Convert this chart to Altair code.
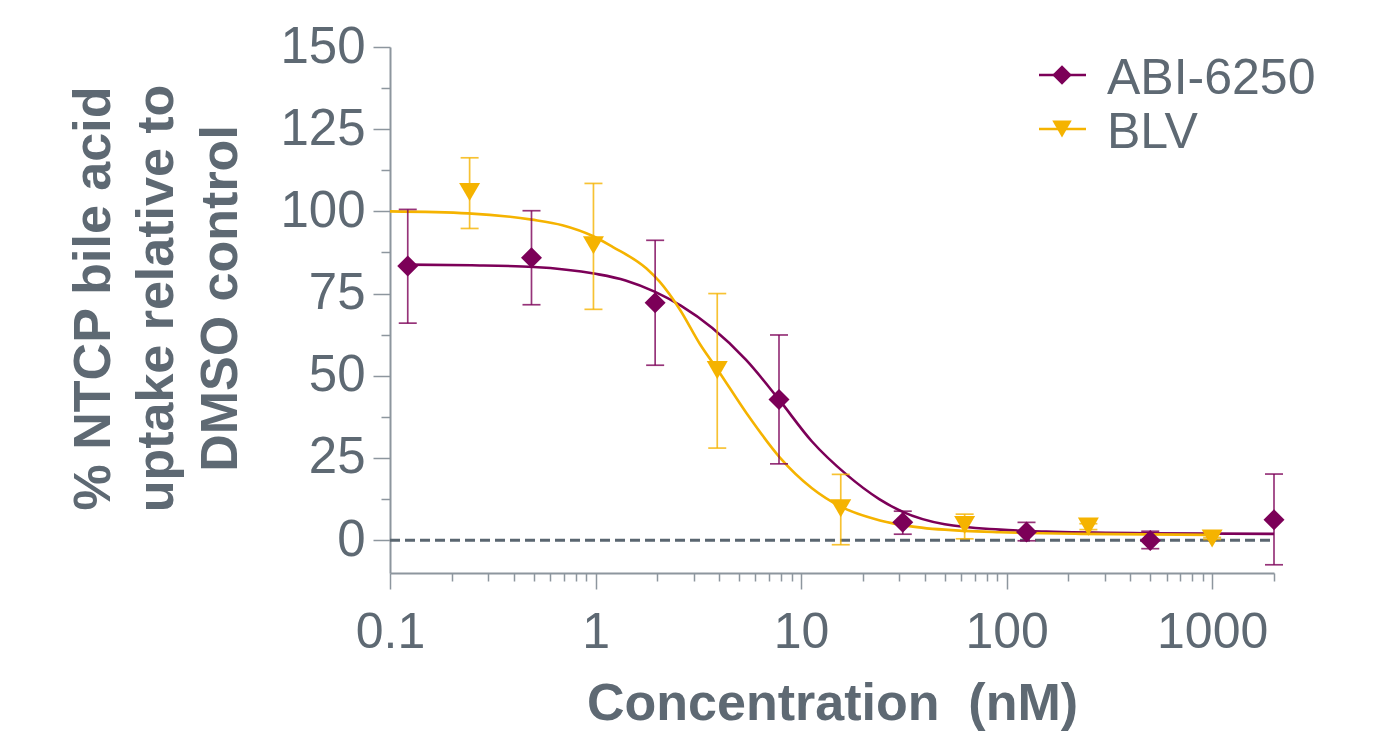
import altair as alt
import pandas as pd

FONT = "Liberation Sans"
GRAY = "#5e6973"
AXIS_GRAY = "#8d969e"
PURPLE = "#7c0058"
YELLOW = "#f5b300"

series_names = ["ABI-6250", "BLV"]
series_colors = [PURPLE, YELLOW]
series_shapes = ["diamond", "triangle-down"]

# measured points (mean, lower / upper error)
abi_conc = [0.122, 0.488, 1.95, 7.81, 31.25, 125, 500, 2000]
abi_mean = [83.4, 85.9, 72.2, 42.8, 5.4, 2.5, -0.1, 6.2]
abi_lo = [66.0, 71.6, 53.2, 23.2, 1.8, -0.2, -2.6, -7.5]
abi_hi = [100.6, 100.2, 91.2, 62.4, 8.8, 5.4, 2.7, 20.1]

blv_conc = [0.244, 0.977, 3.91, 15.6, 62.5, 250, 1000]
blv_mean = [105.9, 89.7, 51.7, 9.7, 4.6, 4.1, 0.5]
blv_lo = [94.8, 70.2, 28.0, -1.4, 0.4, 3.2, 0.2]
blv_hi = [116.3, 108.5, 75.0, 20.0, 7.9, 5.0, 0.8]

# fitted curves
abi_fit_conc = [0.122, 0.25, 0.5, 1.0, 1.4, 1.95, 2.6, 3.7, 5.4, 7.8, 11.3, 16.6, 24, 31.25, 50, 93, 156, 478, 2000]
abi_fit_val = [83.8, 83.6, 83.1, 81.0, 79.0, 75.5, 71.3, 64.5, 54.8, 42.8, 30.0, 20.0, 12.5, 8.6, 4.8, 3.2, 2.6, 2.1, 1.9]
blv_fit_conc = [0.1, 0.24, 0.49, 0.69, 0.97, 1.21, 1.77, 2.05, 2.58, 3.23, 3.94, 5.43, 7.87, 11.3, 15.6, 24.2, 35, 62.6, 92.6, 229, 1000]
blv_fit_val = [100.0, 99.4, 97.5, 95.8, 92.5, 89.2, 82.6, 78.6, 70.0, 59.5, 51.7, 38.6, 25.2, 15.8, 10.2, 6.0, 4.1, 2.8, 2.4, 1.9, 1.6]

baseline_value = 0
baseline_from = 0.1
baseline_to = 1950

x_ticks = [0.1, 0.2, 0.3, 0.4, 0.5, 0.6, 0.7, 0.8, 0.9,
           1, 2, 3, 4, 5, 6, 7, 8, 9,
           10, 20, 30, 40, 50, 60, 70, 80, 90,
           100, 200, 300, 400, 500, 600, 700, 800, 900,
           1000, 2000]
y_ticks = [0, 12.5, 25, 37.5, 50, 62.5, 75, 87.5, 100, 112.5, 125, 137.5, 150]

pts = pd.DataFrame({
    "series": ["ABI-6250"] * len(abi_conc) + ["BLV"] * len(blv_conc),
    "conc": abi_conc + blv_conc,
    "mean": abi_mean + blv_mean,
    "lo": abi_lo + blv_lo,
    "hi": abi_hi + blv_hi,
})
fit = pd.DataFrame({
    "series": ["ABI-6250"] * len(abi_fit_conc) + ["BLV"] * len(blv_fit_conc),
    "conc": abi_fit_conc + blv_fit_conc,
    "val": abi_fit_val + blv_fit_val,
})
base = pd.DataFrame({"x1": [baseline_from], "x2": [baseline_to], "y": [baseline_value]})
leg = pd.DataFrame({"series": series_names})

decade = "abs(log(datum.value)/LN10 - round(log(datum.value)/LN10)) < 0.001"
xscale = alt.Scale(type="log", domain=[0.1, 2000], nice=False)
yscale = alt.Scale(domain=[-10, 150], nice=False, zero=False)

xax = alt.Axis(
    values=x_ticks,
    labelExpr=f"{decade} ? format(datum.value, '~g') : ''",
    tickSize={"condition": {"test": decade, "value": 16}, "value": 8},
    tickWidth=1.5, tickColor=AXIS_GRAY, domainColor=AXIS_GRAY, domainWidth=2,
    labelFontSize=50, labelFont=FONT, labelColor=GRAY, labelPadding=18,
    labelFlush=False, labelOverlap=False, grid=False,
    title="Concentration\u00a0 (nM)", titleFont=FONT, titleFontSize=52,
    titleFontWeight="bold", titleColor=GRAY, titleX=442, titleY=146,
    titleAlign="center", titleBaseline="alphabetic",
)
yax = alt.Axis(
    values=y_ticks,
    labelExpr="datum.value % 25 === 0 ? datum.label : ''",
    tickSize={"condition": {"test": "datum.value % 25 === 0", "value": 17}, "value": 9},
    tickWidth=1.5, tickColor=AXIS_GRAY, domainColor=AXIS_GRAY, domainWidth=2,
    labelFontSize=51, labelFont=FONT, labelColor=GRAY, labelPadding=8,
    labelFlush=False, labelOverlap=False, grid=False,
    title=["% NTCP bile acid", "uptake relative to", "DMSO control"],
    titleFont=FONT, titleFontSize=52, titleFontWeight="bold", titleColor=GRAY,
    titleAngle=270, titleX=-297, titleY=251, titleAlign="center",
    titleBaseline="middle", titleLineHeight=63.5,
)

color = alt.Color("series:N", scale=alt.Scale(domain=series_names, range=series_colors), legend=None)
shape = alt.Shape("series:N", scale=alt.Scale(domain=series_names, range=series_shapes), legend=None)

baseline = alt.Chart(base).mark_rule(strokeDash=[10, 5], strokeWidth=3, color="#5a6670").encode(
    x=alt.X("x1:Q", scale=xscale, axis=xax), x2="x2:Q",
    y=alt.Y("y:Q", scale=yscale, axis=yax),
)
curves = alt.Chart(fit).mark_line(strokeWidth=2.6, interpolate="monotone").encode(
    x=alt.X("conc:Q", scale=xscale, axis=xax),
    y=alt.Y("val:Q", scale=yscale, axis=yax),
    color=color,
)
bars = alt.Chart(pts).mark_rule(strokeWidth=1.7, opacity=0.8).encode(
    x=alt.X("conc:Q", scale=xscale, axis=xax),
    y=alt.Y("lo:Q", scale=yscale, axis=yax), y2="hi:Q",
    color=color,
)
caps_hi = alt.Chart(pts).mark_tick(orient="horizontal", size=18, thickness=1.7, opacity=0.8).encode(
    x=alt.X("conc:Q", scale=xscale, axis=xax),
    y=alt.Y("hi:Q", scale=yscale, axis=yax),
    color=color,
)
caps_lo = alt.Chart(pts).mark_tick(orient="horizontal", size=18, thickness=1.7, opacity=0.8).encode(
    x=alt.X("conc:Q", scale=xscale, axis=xax),
    y=alt.Y("lo:Q", scale=yscale, axis=yax),
    color=color,
)
points = alt.Chart(pts).mark_point(filled=True, size=440, opacity=1).encode(
    x=alt.X("conc:Q", scale=xscale, axis=xax),
    y=alt.Y("mean:Q", scale=yscale, axis=yax),
    color=color, shape=shape,
)

data_layer = alt.layer(baseline, curves, bars, caps_hi, caps_lo, points)

ly = alt.Y("series:N", scale=alt.Scale(type="point", domain=series_names, range=[28, 82], padding=0), axis=None)
leg_line = alt.Chart(leg).mark_rule(strokeWidth=2.6).encode(
    x=alt.value(649), x2=alt.value(696), y=ly, color=color)
leg_pt = alt.Chart(leg).mark_point(filled=True, size=380, opacity=1).encode(
    x=alt.value(672), y=ly, color=color, shape=shape)
leg_txt = alt.Chart(leg).mark_text(align="left", baseline="middle", dy=4, fontSize=50, font=FONT, color=GRAY).encode(
    x=alt.value(717), y=ly, text="series:N")
legend_layer = alt.layer(leg_line, leg_pt, leg_txt)

chart = alt.layer(data_layer, legend_layer).resolve_scale(y="independent").properties(
    width=884, height=526,
    autosize=alt.AutoSizeParams(type="none"),
    padding={"left": 390, "top": 47, "right": 114, "bottom": 168},
    background="white",
).configure_view(strokeWidth=0)

chart.save("out.html", embed_options={"renderer": "svg", "actions": False})
